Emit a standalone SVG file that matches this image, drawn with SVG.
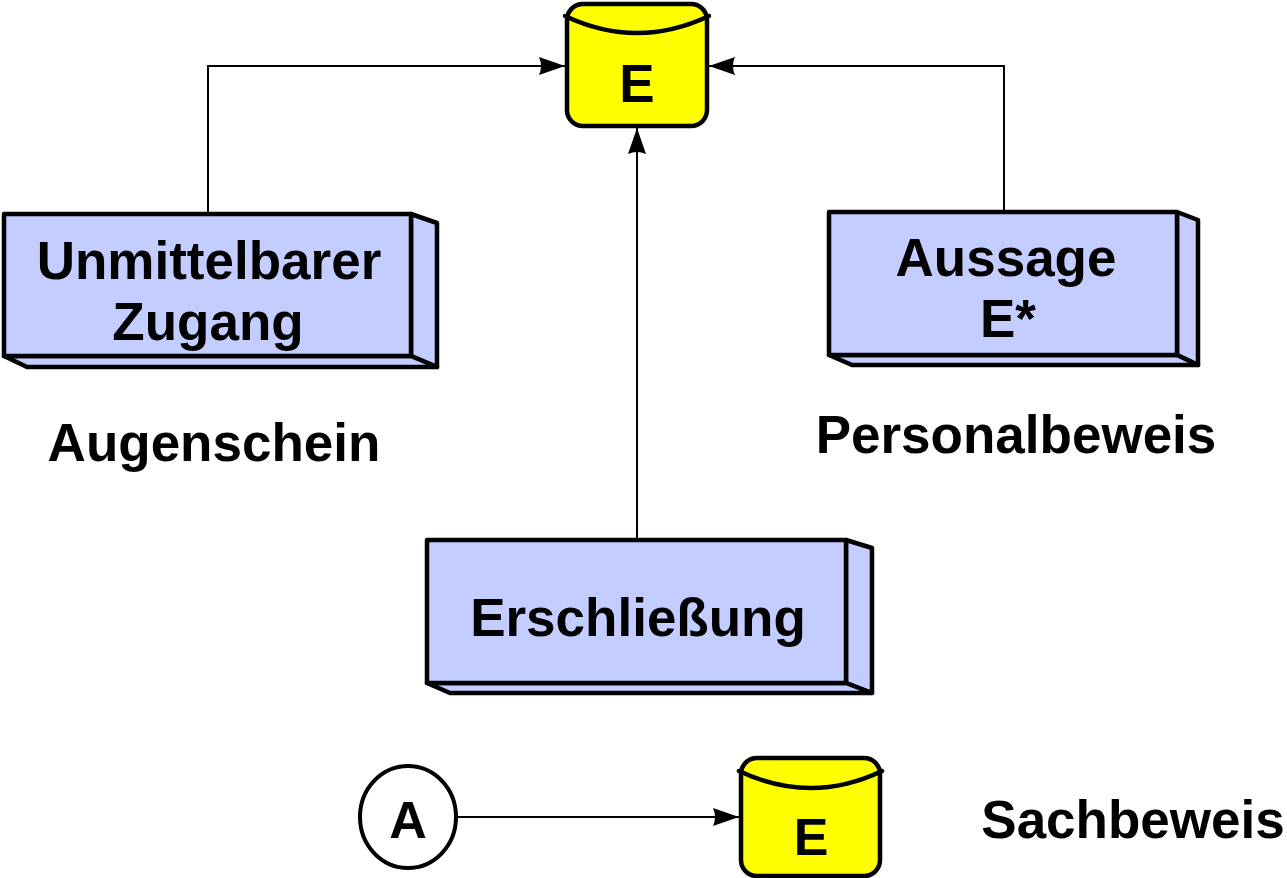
<svg xmlns="http://www.w3.org/2000/svg" width="1287" height="878" viewBox="0 0 1287 878">
  <style>
    .face { fill: #C4CDFF; stroke: #000; stroke-width: 4.5; stroke-linejoin: round; }
    .drum { fill: #FFFF00; stroke: #000; stroke-width: 4.5; stroke-linejoin: round; }
    .rim { fill: none; stroke: #000; stroke-width: 4.5; stroke-linecap: round; }
    .edge { fill: none; stroke: #000; stroke-width: 2; }
    .lbl { font-family: "Liberation Sans", Arial, sans-serif; font-weight: bold; font-size: 53px; fill: #000; text-anchor: middle; }
  </style>
  <defs>
    <marker id="head" markerWidth="27" markerHeight="20" refX="26" refY="10" orient="auto" markerUnits="userSpaceOnUse">
      <path d="M0,1 L26,10 L0,19 Q4,10 0,1 Z" fill="#000"/>
    </marker>
  </defs>

  <rect width="1287" height="878" fill="#fff"/>

  <g id="connectors">
    <polyline class="edge" points="208,214 208,66 565,66" marker-end="url(#head)"/>
    <polyline class="edge" points="1004,212 1004,66 709,66" marker-end="url(#head)"/>
    <line class="edge" x1="637" y1="540" x2="637" y2="128" marker-end="url(#head)"/>
    <line class="edge" x1="457" y1="817" x2="739" y2="817" marker-end="url(#head)"/>
  </g>

  <g id="evidence-top">
    <rect class="drum" x="567" y="4" width="140" height="122" rx="16"/>
    <path class="rim" d="M565,16 Q637,50 709,16"/>
    <text class="lbl" x="637" y="102">E</text>
  </g>

  <g id="unmittelbarer-zugang">
    <polygon class="face" points="411,214 437,223 437,367 411,356"/>
    <polygon class="face" points="4,356 411,356 437,367 27,367"/>
    <rect class="face" x="4" y="214" width="407" height="142"/>
    <text class="lbl" x="209" y="279">Unmittelbarer</text>
    <text class="lbl" x="208" y="340">Zugang</text>
  </g>

  <g id="aussage">
    <polygon class="face" points="1177,212 1198,220 1198,365 1177,355"/>
    <polygon class="face" points="829,355 1177,355 1198,365 852,365"/>
    <rect class="face" x="829" y="212" width="348" height="143"/>
    <text class="lbl" x="1006" y="276">Aussage</text>
    <text class="lbl" x="1008" y="337">E*</text>
  </g>

  <g id="erschliessung">
    <polygon class="face" points="846,540 872,548 872,693 846,683"/>
    <polygon class="face" points="427,683 846,683 872,693 450,693"/>
    <rect class="face" x="427" y="540" width="419" height="143"/>
    <text class="lbl" x="638" y="636">Erschließung</text>
  </g>

  <g id="augenschein">
    <text class="lbl" x="214" y="461">Augenschein</text>
  </g>

  <g id="personalbeweis">
    <text class="lbl" x="1016" y="453">Personalbeweis</text>
  </g>

  <g id="sachbeweis">
    <text class="lbl" x="1133" y="838">Sachbeweis</text>
  </g>

  <g id="node-a">
    <ellipse cx="408" cy="817" rx="48" ry="51" fill="#fff" stroke="#000" stroke-width="4"/>
    <text class="lbl" x="408" y="838" style="font-size:52px">A</text>
  </g>

  <g id="evidence-bottom">
    <rect class="drum" x="741" y="758" width="139" height="118" rx="16"/>
    <path class="rim" d="M739,771 Q811,805 882,771"/>
    <text class="lbl" x="811" y="855" style="font-size:52px">E</text>
  </g>
</svg>
